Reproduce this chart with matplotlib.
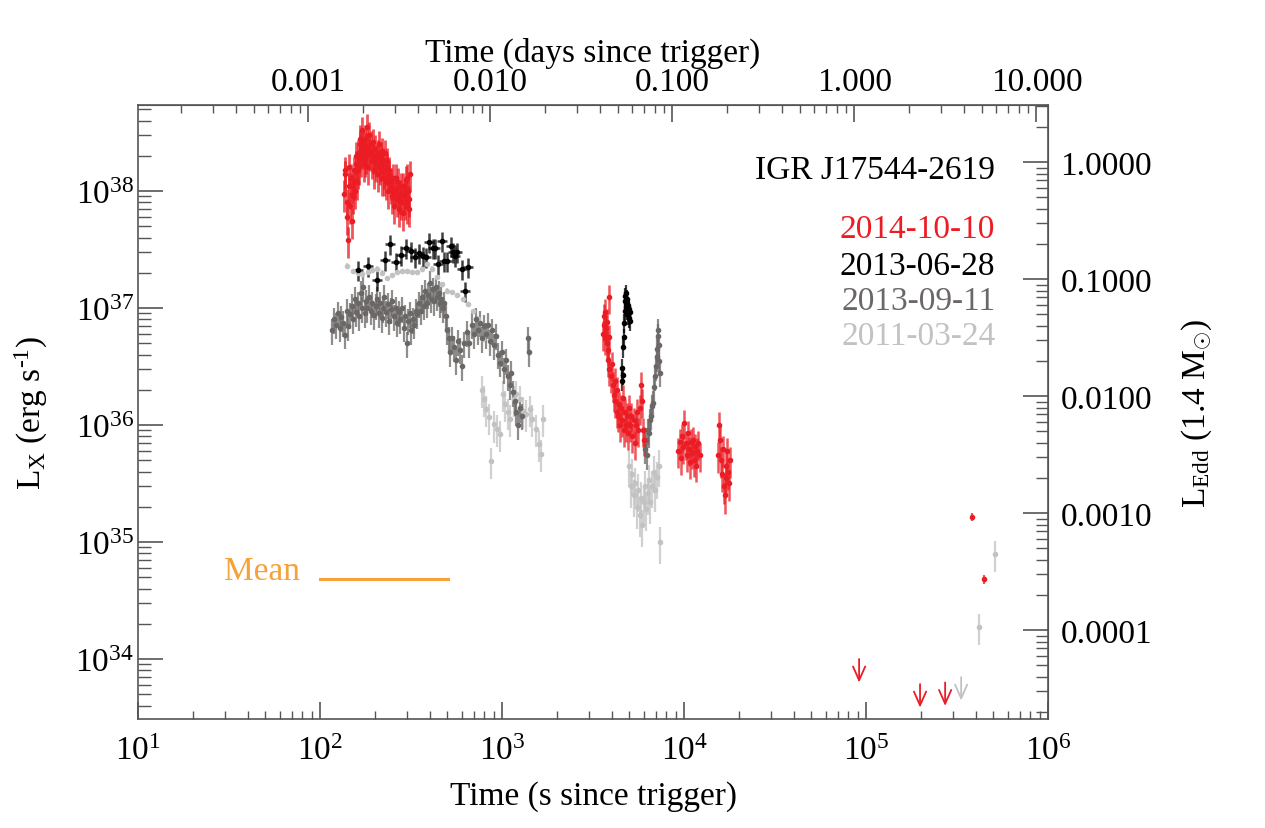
import numpy as np
import matplotlib
matplotlib.use("Agg")
import matplotlib.pyplot as plt
from matplotlib.ticker import FixedLocator, FormatStrFormatter, LogLocator, NullFormatter

plt.rcParams['font.family'] = ['Liberation Serif', 'DejaVu Serif']
plt.rcParams['mathtext.fontset'] = 'custom'
plt.rcParams['mathtext.rm'] = 'Liberation Serif'
plt.rcParams['mathtext.it'] = 'Liberation Serif:italic'
plt.rcParams['font.size'] = 24

# luminosities in units of 1e36 erg/s, times in s since trigger
# 2014-10-10 (red)
red1_t = [136, 138, 140, 142, 144, 146, 148, 150, 152, 154, 156, 158, 160, 162, 164, 166,
          168, 170, 172, 174, 176, 178, 180, 183, 186, 189, 192, 195, 198, 201, 204, 207,
          210, 213, 216, 219, 222, 225, 228, 231, 234, 237, 240, 244, 248, 252, 256, 260,
          264, 268, 272, 276, 280, 284, 288, 292, 296, 300, 304, 308, 312]
red1_L = [95, 140, 60, 38, 110, 75, 130, 55, 90, 150, 100, 170, 120, 210, 160, 250,
          190, 330, 220, 170, 280, 200, 240, 160, 300, 210, 180, 260, 150, 230, 190, 140,
          250, 170, 200, 130, 180, 150, 210, 120, 160, 100, 140, 110, 90, 130, 75, 105,
          85, 120, 70, 95, 110, 65, 90, 80, 125, 75, 100, 70, 140]
red1b_t = [137, 141, 145, 149, 153, 157, 161, 165, 169, 173, 177, 181, 185, 190, 196, 202,
           208, 214, 220, 226, 232, 238, 246, 254, 262, 270, 278, 286, 294, 302, 310]
red1b_L = [150, 80, 160, 110, 120, 200, 150, 280, 230, 260, 190, 350, 220, 250, 200, 170,
           210, 160, 220, 130, 180, 150, 120, 100, 130, 90, 80, 110, 100, 130, 85]
red2_t = [3600, 3620, 3640, 3660, 3700, 3720, 3750, 3780, 3800, 3830, 3850, 3870, 3880,
          3950, 4000, 4050, 4100, 4150, 4200, 4260, 4300, 4350, 4400, 4450, 4500, 4560,
          4620, 4680, 4740, 4800, 4860, 4920, 4980, 5050, 5120, 5200, 5280, 5350, 5430,
          5500, 5600, 5700, 5800, 5850, 5950, 6050]
red2_L = [6.0, 8.5, 7.2, 5.5, 9.3, 6.8, 5.0, 7.6, 4.4, 3.6, 5.6, 12.4, 3.0,
          2.6, 3.3, 2.2, 1.8, 2.4, 1.6, 1.3, 2.0, 1.2, 1.5, 1.0, 1.4, 1.1,
          1.7, 0.9, 1.3, 1.0, 1.2, 0.85, 1.4, 1.0, 1.2, 0.8, 1.1, 0.7, 1.0,
          1.3, 0.9, 1.4, 2.2, 1.6, 0.9, 0.75]
red3_t = [9300, 9450, 9600, 9750, 9900, 10050, 10200, 10350, 10500, 10650, 10800, 10950,
          11100, 11250, 11400, 11550, 11700, 11850, 12000, 12200]
red3_L = [0.6, 0.72, 0.52, 0.8, 0.65, 1.05, 0.7, 0.55, 0.85, 0.62, 0.48, 0.72,
          0.58, 0.75, 0.5, 0.66, 0.45, 0.6, 0.7, 0.55]
red4_t = [15300, 15500, 15700, 15900, 16100, 16300, 16500, 16700, 16900, 17100, 17300,
          17500, 17700, 17900]
red4_L = [0.55, 1.0, 0.75, 0.5, 0.38, 0.62, 0.3, 0.25, 0.35, 0.45, 0.6, 0.4, 0.32, 0.5]
red_late_t = [382000, 444000]
red_late_L = [0.164, 0.048]
red_ul_t = [91600, 198000, 272000]
red_ul_L = [0.0100, 0.0061, 0.0063]

# 2013-06-28 (black)
blk1_t = [162, 184, 206, 228, 243, 262, 279, 297, 316, 333, 350, 368, 382, 397, 418, 428,
          445, 468, 480, 499, 525, 538, 552, 566, 603, 626, 650]
blk1_L = [21.1, 22.9, 17.4, 25.7, 35.2, 24.7, 28.4, 32.6, 30.7, 27.3, 29.5, 27.8, 27.3,
          36.6, 32.6, 32.6, 23.8, 37.4, 25.2, 25.2, 33.9, 30.1, 27.8, 30.1, 21.5, 14.0, 22.4]
blk2_t = [4560, 4580, 4600, 4640, 4660, 4700, 4720, 4740, 4760, 4790, 4810, 4830, 4860,
          4880, 4900, 4930, 4960, 4990, 5020, 5050]
blk2_L = [2.4, 3.1, 2.7, 4.6, 5.6, 7.5, 9.5, 11.5, 12.6, 10.2, 13.4, 11.0, 9.6,
          12.0, 10.5, 8.7, 9.8, 8.2, 9.2, 7.8]

# 2013-09-11 (dark grey)
dg1_t = [116, 119, 122, 125, 128, 131, 134, 137, 140, 143, 146, 149, 152, 155, 158, 161,
         164, 167, 170, 173, 176, 179, 182, 186, 190, 194, 198, 202, 206, 210, 214, 218,
         222, 226, 230, 235, 240, 245, 250, 255, 260, 265, 270, 276, 282, 288, 294, 300,
         306, 312, 318, 324, 330, 336, 343, 350, 357, 364, 371, 378, 385, 392, 400, 408,
         416, 424, 432, 440, 448, 456, 464, 472, 480, 490, 500, 510, 520, 530, 545, 560,
         575, 590, 605, 620, 640, 660, 680, 700, 720, 740, 760, 780, 800, 820, 840, 860,
         880, 900, 925, 950, 975, 1000, 1025, 1050, 1075, 1100, 1125, 1150, 1175, 1200,
         1230, 1260, 1290, 1390, 1400]
dg1_L = [6.5, 8.0, 7.2, 9.0, 6.8, 8.3, 7.5, 5.9, 9.5, 7.0, 8.8, 10.5, 8.0, 12.0, 9.2, 11.0,
         8.5, 13.5, 10.0, 15.0, 9.0, 11.5, 10.0, 12.5, 9.5, 11.0, 8.7, 10.5, 12.0, 9.0, 11.0, 8.2,
         10.0, 12.5, 9.2, 10.8, 7.8, 9.8, 11.5, 8.5, 10.0, 7.5, 9.2, 8.0, 10.0, 6.8, 8.5, 5.0,
         7.8, 9.0, 6.5, 8.0, 7.2, 9.5, 8.8, 11.0, 9.5, 12.5, 10.5, 14.0, 11.0, 13.0, 16.5, 12.0,
         14.5, 11.5, 15.0, 12.5, 13.5, 11.0, 12.0, 10.0, 11.0, 8.5, 6.5, 5.5, 4.2, 5.5, 4.6, 3.6,
         5.2, 4.4, 3.2, 5.0, 6.2, 5.0, 7.2, 6.0, 8.0, 6.5, 7.5, 5.5, 7.0, 6.0, 7.2, 5.2,
         6.5, 4.8, 5.8, 4.0, 3.4, 4.2, 3.0, 3.6, 2.6, 2.2, 2.8, 1.9, 1.6, 1.3,
         1.0, 1.4, 1.2, 5.5, 4.2]
dg2_t = [6100, 6200, 6280, 6350, 6430, 6500, 6590, 6680, 6760, 6850, 6930, 7020, 7070,
         7110, 7160, 7200, 7250, 7300, 7380]
dg2_L = [0.62, 0.75, 0.55, 0.9, 0.85, 1.1, 1.2, 1.45, 1.55, 2.1, 2.6, 3.2, 3.8,
         4.5, 5.8, 6.5, 4.8, 3.5, 2.8]

# 2011-03-24 (light grey)
lg1_t = [141, 152, 162, 170, 184, 194, 206, 219, 233, 249, 264, 281, 300, 321, 342, 364,
         388, 414, 441, 470, 499, 532, 566, 610, 650, 694, 738, 787]
lg1_L = [22.9, 20.7, 20.0, 19.5, 20.3, 21.1, 21.6, 20.0, 18.0, 19.1, 20.3, 20.7, 20.7,
         20.3, 20.3, 21.6, 23.8, 21.6, 18.4, 16.0, 14.0, 13.7, 12.9, 11.9, 10.8, 9.4, 8.1, 5.4]
lg2_t = [776, 800, 820, 849, 872, 904, 940, 975, 1010, 1040, 1080, 1113, 1160, 1200, 1250,
         1300, 1360, 1420, 1470, 1530, 1590, 1630, 1670]
lg2_L = [2.0, 1.66, 1.37, 1.17, 0.49, 1.01, 0.93, 0.84, 1.83, 1.51, 1.29, 1.13, 1.66, 1.83,
         1.66, 1.33, 1.25, 1.37, 1.13, 0.93, 0.69, 0.57, 1.13]
lg3_t = [5000, 5100, 5200, 5300, 5400, 5500, 5600, 5700, 5800, 5900, 6000, 6100, 6200,
         6300, 6400, 6500, 6650, 6800, 6950, 7100, 7250, 7400]
lg3_L = [0.45, 0.3, 0.38, 0.25, 0.32, 0.2, 0.28, 0.17, 0.24, 0.14, 0.22, 0.3, 0.19,
         0.26, 0.34, 0.22, 0.3, 0.4, 0.28, 0.36, 0.45, 0.1]
lg_late_t = [418000, 512000]
lg_late_L = [0.0188, 0.079]
lg_ul_t = [333000]
lg_ul_L = [0.0070]

mean_t = [100, 505]
mean_L = [0.048, 0.048]

L_EDD = 1.76e38
RED = '#ec1c24'
BLACK = '#000000'
DGREY = '#6b6767'
LGREY = '#c2c2c2'
ORANGE = '#f7a13b'

fig = plt.figure(figsize=(12.65, 8.29), dpi=100)
ax = fig.add_axes([0.1091, 0.1315, 0.7194, 0.7406])


def seg(t, L, rel, xrel, color, ms=3, ealpha=0.75, lw=1.6):
    t = np.asarray(t, float)
    L = np.asarray(L, float) * 1e36
    ecol = matplotlib.colors.to_rgba(color, ealpha)
    ax.errorbar(t, L, yerr=L * rel, xerr=t * xrel, fmt='o', ms=ms, mfc=color, mec=color,
                ecolor=ecol, elinewidth=lw, capsize=0, zorder=3)


def upper_limits(t, L, color):
    for ti, li in zip(t, L):
        ax.annotate('', xy=(ti, li * 1e36 * 0.63), xytext=(ti, li * 1e36),
                    arrowprops=dict(arrowstyle='->,head_length=0.45,head_width=0.2',
                                    color=color, lw=1.3, mutation_scale=22,
                                    shrinkA=0, shrinkB=0))


seg(lg1_t, lg1_L, 0.05, 0.01, LGREY)
seg(lg2_t, lg2_L, 0.3, 0.008, LGREY)
seg(lg3_t, lg3_L, 0.35, 0.006, LGREY)
seg(lg_late_t, lg_late_L, 0.3, 0.004, LGREY)
seg(dg1_t, dg1_L, 0.25, 0.008, DGREY)
seg(dg2_t, dg2_L, 0.25, 0.004, DGREY)
seg(blk1_t, blk1_L, 0.2, 0.06, BLACK, lw=1.8)
seg(blk2_t, blk2_L, 0.18, 0.004, BLACK)
seg(red1_t, red1_L, 0.3, 0.008, RED, lw=2.0)
seg(red1b_t, red1b_L, 0.3, 0.008, RED, lw=2.0)
seg(red2_t, red2_L, 0.28, 0.004, RED, lw=1.8)
seg(red3_t, red3_L, 0.28, 0.004, RED, lw=1.8)
seg(red4_t, red4_L, 0.3, 0.004, RED, lw=1.8)
seg(red_late_t, red_late_L, 0.08, 0.004, RED)
upper_limits(red_ul_t, red_ul_L, RED)
upper_limits(lg_ul_t, lg_ul_L, LGREY)

ax.plot(mean_t, np.array(mean_L) * 1e36, color=ORANGE, lw=2.2)
ax.text(0.178, 0.242, 'Mean', color=ORANGE, transform=ax.transAxes, ha='right', va='center')

ax.set_xscale('log')
ax.set_yscale('log')
ax.set_xlim(10, 1e6)
ax.set_ylim(3.07e33, 5.43e38)
ax.set_xlabel('Time (s since trigger)', labelpad=10)
ax.set_ylabel(r'L$_{\rm X}$ (erg s$^{\text{-1}}$)', labelpad=18)

ax.xaxis.set_major_locator(LogLocator(base=10, numticks=10))
ax.xaxis.set_minor_locator(LogLocator(base=10, subs=np.arange(2, 10), numticks=20))
ax.yaxis.set_minor_locator(LogLocator(base=10, subs=np.arange(2, 10), numticks=20))
ax.tick_params(axis='x', which='major', direction='in', length=12, width=1.2, pad=12,
               top=False, colors='#555555', labelcolor='black')
ax.tick_params(axis='x', which='minor', direction='in', length=6, width=1.0, top=False,
               colors='#555555')
ax.tick_params(axis='y', which='major', direction='in', length=18, width=1.2, pad=3,
               right=False, colors='#555555', labelcolor='black')
ax.tick_params(axis='y', which='minor', direction='in', length=9, width=1.0, right=False,
               colors='#555555')
for sp in ax.spines.values():
    sp.set_color('#555555')
    sp.set_linewidth(1.2)

top = ax.secondary_xaxis('top', functions=(lambda x: x / 86400.0, lambda d: d * 86400.0))
top.xaxis.set_major_locator(FixedLocator([0.001, 0.01, 0.1, 1.0, 10.0]))
top.xaxis.set_major_formatter(FormatStrFormatter('%.3f'))
top.xaxis.set_minor_locator(LogLocator(base=10, subs=np.arange(2, 10), numticks=20))
top.xaxis.set_minor_formatter(NullFormatter())
top.tick_params(which='major', direction='in', length=12, width=1.2, pad=6,
                colors='#555555', labelcolor='black')
top.tick_params(which='minor', direction='in', length=6, width=1.0, colors='#555555')
top.set_xlabel('Time (days since trigger)', labelpad=4)
top.spines['top'].set_color('#555555')

right = ax.secondary_yaxis('right', functions=(lambda y: y / L_EDD, lambda e: e * L_EDD))
right.yaxis.set_major_locator(FixedLocator([1e-4, 1e-3, 1e-2, 1e-1, 1.0]))
right.yaxis.set_major_formatter(FormatStrFormatter('%.4f'))
right.yaxis.set_minor_locator(LogLocator(base=10, subs=np.arange(2, 10), numticks=20))
right.yaxis.set_minor_formatter(NullFormatter())
right.tick_params(which='major', direction='in', length=18, width=1.2, pad=9,
                  colors='#555555', labelcolor='black')
right.tick_params(which='minor', direction='in', length=9, width=1.0, colors='#555555')
right.set_ylabel(r'L$_{\rm Edd}$ (1.4 M$_{\odot}$)', labelpad=20)
right.spines['right'].set_color('#555555')

labels = ['IGR J17544-2619', '2014-10-10', '2013-06-28', '2013-09-11', '2011-03-24']
label_colors = [BLACK, RED, BLACK, DGREY, LGREY]
label_y = [0.894, 0.798, 0.738, 0.682, 0.624]
for txt, col, yy in zip(labels, label_colors, label_y):
    ax.text(0.942, yy, txt, color=col, transform=ax.transAxes, ha='right', va='center')

fig.savefig('out.png', dpi=100)
